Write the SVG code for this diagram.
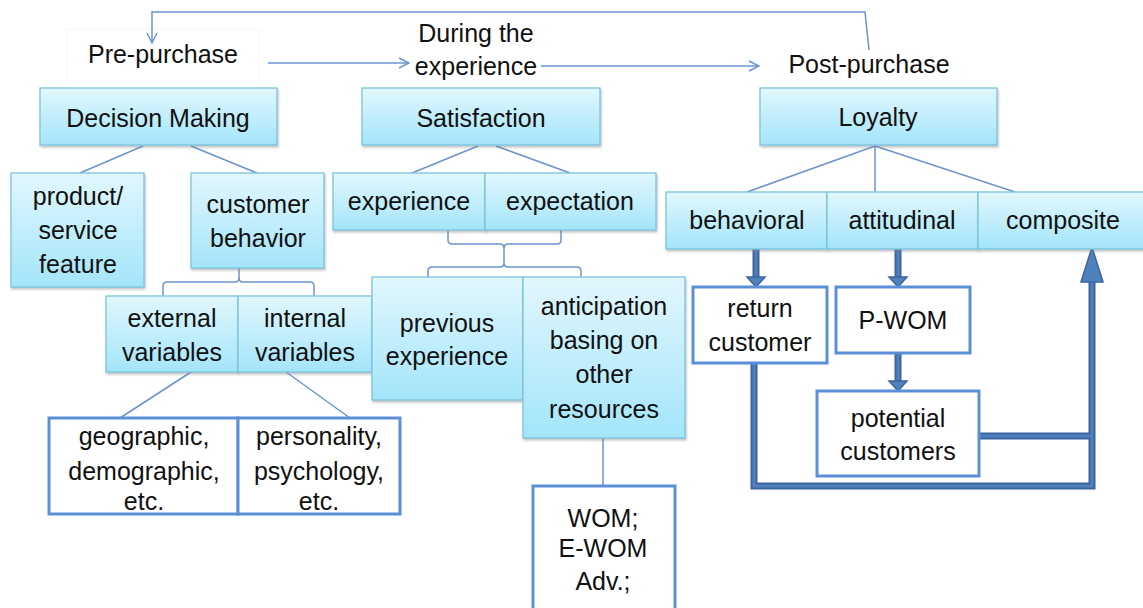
<svg xmlns="http://www.w3.org/2000/svg" width="1143" height="608" viewBox="0 0 1143 608">
  <defs>
    <linearGradient id="cyanFill" x1="0" y1="0" x2="0" y2="1">
      <stop offset="0" stop-color="#e2f7fd"/>
      <stop offset="1" stop-color="#a3e5fa"/>
    </linearGradient>
    <filter id="shadow" x="-5%" y="-5%" width="110%" height="120%">
      <feDropShadow dx="1" dy="2" stdDeviation="1.2" flood-color="#808080" flood-opacity="0.45"/>
    </filter>
    <marker id="openArrow" viewBox="0 0 12 12" refX="11" refY="6" markerWidth="12" markerHeight="12" markerUnits="userSpaceOnUse" orient="auto">
      <path d="M1,1 L11,6 L1,11" fill="none" stroke="#6b94cc" stroke-width="1.4"/>
    </marker>
  </defs>
  <style>
    .box { fill: url(#cyanFill); stroke: #7cc4de; stroke-width: 1.3; filter: url(#shadow); }
    .obox { fill: #ffffff; stroke: #5b8fd8; stroke-width: 3; }
    .txt { font-family: "Liberation Sans", Arial, sans-serif; font-size: 25px; fill: #111111; text-anchor: middle; }
    .thin { fill: none; stroke: #6b94cc; stroke-width: 1.5; }
    .thickOuter { fill: none; stroke: #3b64a0; stroke-width: 7; stroke-linejoin: miter; }
    .thickInner { fill: none; stroke: #4f81bd; stroke-width: 3; stroke-linejoin: miter; }
    .head { fill: #4f81bd; stroke: #3b64a0; stroke-width: 1.5; stroke-linejoin: miter; }
  </style>

  <rect width="1143" height="608" fill="#ffffff"/>

  <!-- stage labels -->
  <g id="stage-pre">
    <rect x="67" y="29" width="192" height="52" fill="#ffffff" stroke="#f6f6f6" stroke-width="1"/>
    <text class="txt" x="163" y="63">Pre-purchase</text>
  </g>
  <g id="stage-during">
    <text class="txt" x="476" y="42">During the</text>
    <text class="txt" x="476" y="75">experience</text>
  </g>
  <g id="stage-post">
    <text class="txt" x="869" y="73">Post-purchase</text>
  </g>

  <!-- connectors -->
  <g id="connectors">
    <!-- stage flow -->
    <path class="thin" d="M268,63 H409" marker-end="url(#openArrow)"/>
    <path class="thin" d="M541,66 H759" marker-end="url(#openArrow)"/>
    <path class="thin" d="M869,50 L865,12 H152 V43" marker-end="url(#openArrow)"/>

    <!-- Decision Making branches -->
    <path class="thin" d="M143,146 L80,173"/>
    <path class="thin" d="M191,146 L257,173"/>
    <!-- customer behavior bracket -->
    <path class="thin" d="M239,268 V278 Q239,282 235,282 H167 Q163,282 163,286 V296"/>
    <path class="thin" d="M239,278 Q239,282 243,282 H310 Q314,282 314,286 V296"/>
    <!-- variables to examples -->
    <path class="thin" d="M191,372 L120,418"/>
    <path class="thin" d="M286,372 L350,418"/>

    <!-- Satisfaction branches -->
    <path class="thin" d="M478,146 L412,173"/>
    <path class="thin" d="M496,146 L570,173"/>
    <!-- experience / expectation bracket -->
    <path class="thin" d="M448,230 V240 Q448,244 452,244 H500 Q504,244 504,248 V263 Q504,267 500,267 H432 Q428,267 428,271 V278"/>
    <path class="thin" d="M561,230 V240 Q561,244 557,244 H508 Q504,244 504,248"/>
    <path class="thin" d="M504,263 Q504,267 508,267 H577 Q581,267 581,271 V278"/>
    <!-- anticipation to WOM -->
    <path class="thin" d="M603,438 V486"/>

    <!-- Loyalty branches -->
    <path class="thin" d="M875,146 L747,192"/>
    <path class="thin" d="M875,146 V192"/>
    <path class="thin" d="M875,146 L1015,192"/>

    <!-- thick flows -->
    <path class="thickOuter" d="M756,249 V278"/>
    <path class="thickInner" d="M756,250 V278"/>
    <polygon class="head" points="747,277 765,277 756,287"/>

    <path class="thickOuter" d="M898,249 V278"/>
    <path class="thickInner" d="M898,250 V278"/>
    <polygon class="head" points="889,277 907,277 898,287"/>

    <path class="thickOuter" d="M898,354 V382"/>
    <path class="thickInner" d="M898,355 V382"/>
    <polygon class="head" points="889,381 907,381 898,391"/>

    <path class="thickOuter" d="M754,364 V486 H1092 V282"/>
    <path class="thickOuter" d="M980,436 H1092"/>
    <path class="thickInner" d="M754,364 V486 H1092 V282"/>
    <path class="thickInner" d="M980,436 H1092"/>
    <polygon class="head" points="1081,282 1103,282 1092,247"/>
  </g>

  <!-- Decision Making branch -->
  <g id="decision-making">
    <rect class="box" x="40" y="88" width="237" height="57"/>
    <text class="txt" x="158" y="127">Decision Making</text>
  </g>
  <g id="product-service-feature">
    <rect class="box" x="11" y="173" width="133" height="114"/>
    <text class="txt" x="78" y="205">product/</text>
    <text class="txt" x="78" y="239">service</text>
    <text class="txt" x="78" y="273">feature</text>
  </g>
  <g id="customer-behavior">
    <rect class="box" x="191" y="173" width="133" height="95"/>
    <text class="txt" x="258" y="213">customer</text>
    <text class="txt" x="258" y="247">behavior</text>
  </g>
  <g id="external-variables">
    <rect class="box" x="106" y="296" width="132" height="76"/>
    <text class="txt" x="172" y="327">external</text>
    <text class="txt" x="172" y="361">variables</text>
  </g>
  <g id="internal-variables">
    <rect class="box" x="238" y="296" width="134" height="76"/>
    <text class="txt" x="305" y="327">internal</text>
    <text class="txt" x="305" y="361">variables</text>
  </g>
  <g id="external-examples">
    <rect class="obox" x="49" y="418" width="189" height="96"/>
    <text class="txt" x="144" y="445">geographic,</text>
    <text class="txt" x="144" y="480">demographic,</text>
    <text class="txt" x="144" y="510">etc.</text>
  </g>
  <g id="internal-examples">
    <rect class="obox" x="238" y="418" width="162" height="96"/>
    <text class="txt" x="319" y="445">personality,</text>
    <text class="txt" x="319" y="480">psychology,</text>
    <text class="txt" x="319" y="510">etc.</text>
  </g>

  <!-- Satisfaction branch -->
  <g id="satisfaction">
    <rect class="box" x="362" y="88" width="238" height="57"/>
    <text class="txt" x="481" y="127">Satisfaction</text>
  </g>
  <g id="experience">
    <rect class="box" x="333" y="173" width="152" height="57"/>
    <text class="txt" x="409" y="210">experience</text>
  </g>
  <g id="expectation">
    <rect class="box" x="485" y="173" width="171" height="57"/>
    <text class="txt" x="570" y="210">expectation</text>
  </g>
  <g id="previous-experience">
    <rect class="box" x="372" y="277" width="151" height="123"/>
    <text class="txt" x="447" y="332">previous</text>
    <text class="txt" x="447" y="365">experience</text>
  </g>
  <g id="anticipation">
    <rect class="box" x="523" y="277" width="162" height="161"/>
    <text class="txt" x="604" y="315">anticipation</text>
    <text class="txt" x="604" y="349">basing on</text>
    <text class="txt" x="604" y="383">other</text>
    <text class="txt" x="604" y="418">resources</text>
  </g>
  <g id="wom">
    <rect class="obox" x="533" y="486" width="142" height="130"/>
    <text class="txt" x="603" y="527">WOM;</text>
    <text class="txt" x="603" y="557">E-WOM</text>
    <text class="txt" x="603" y="590">Adv.;</text>
  </g>

  <!-- Loyalty branch -->
  <g id="loyalty">
    <rect class="box" x="760" y="88" width="237" height="57"/>
    <text class="txt" x="878" y="126">Loyalty</text>
  </g>
  <g id="behavioral">
    <rect class="box" x="666" y="192" width="161" height="57"/>
    <text class="txt" x="747" y="229">behavioral</text>
  </g>
  <g id="attitudinal">
    <rect class="box" x="827" y="192" width="151" height="57"/>
    <text class="txt" x="902" y="229">attitudinal</text>
  </g>
  <g id="composite">
    <rect class="box" x="978" y="192" width="170" height="57"/>
    <text class="txt" x="1063" y="229">composite</text>
  </g>
  <g id="return-customer">
    <rect class="obox" x="693" y="287" width="134" height="76"/>
    <text class="txt" x="760" y="317">return</text>
    <text class="txt" x="760" y="351">customer</text>
  </g>
  <g id="p-wom">
    <rect class="obox" x="836" y="287" width="134" height="66"/>
    <text class="txt" x="903" y="329">P-WOM</text>
  </g>
  <g id="potential-customers">
    <rect class="obox" x="817" y="391" width="162" height="85"/>
    <text class="txt" x="898" y="427">potential</text>
    <text class="txt" x="898" y="460">customers</text>
  </g>
</svg>
